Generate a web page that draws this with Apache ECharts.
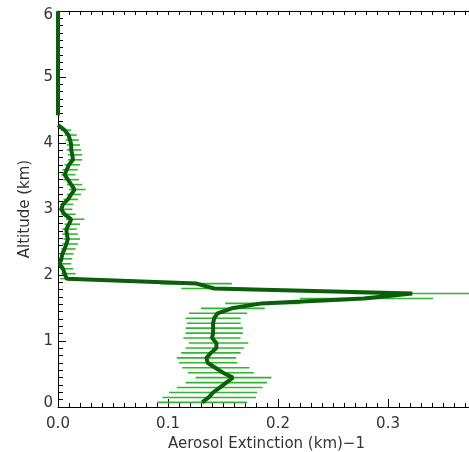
<!DOCTYPE html>
<html><head><meta charset="utf-8">
<script src="https://cdn.jsdelivr.net/npm/echarts@6/dist/echarts.min.js"></script>
<style>html,body{margin:0;padding:0;background:#fff}#c{width:469px;height:452px}</style>
</head><body><div id="c"></div>
<script>
// Altitude levels (km)
const altitude = [0.070,0.145,0.220,0.295,0.370,0.445,0.520,0.595,0.670,0.745,0.820,0.895,0.970,1.045,1.120,1.195,1.270,1.345,1.420,1.495,1.570,1.645,1.720,1.795,1.870,1.945,2.020,2.095,2.170,2.245,2.320,2.395,2.470,2.545,2.620,2.695,2.770,2.845,2.920,2.995,3.070,3.145,3.220,3.295,3.370,3.445,3.520,3.595,3.670,3.745,3.820,3.895,3.970,4.045,4.120,4.195,4.270,4.345,4.420,4.495,4.570,4.645,4.720,4.795,4.870,4.945,5.020,5.095,5.170,5.245,5.320,5.395,5.470,5.545,5.620,5.695,5.770,5.845,5.920,5.995];
// Aerosol extinction (km^-1)
const extinction = [0.131,0.137,0.141,0.147,0.153,0.159,0.150,0.143,0.136,0.135,0.139,0.144,0.144,0.140,0.141,0.141,0.141,0.142,0.145,0.158,0.185,0.278,0.322,0.142,0.126,0.008,0.006,0.0045,0.0015,0.003,0.004,0.006,0.0076,0.009,0.008,0.0076,0.010,0.012,0.006,0.003,0.0045,0.009,0.012,0.015,0.012,0.009,0.006,0.008,0.010,0.0136,0.013,0.012,0.012,0.011,0.0095,0.006,0.000,null,0,0,0,0,0,0,0,0,0,0,0,0,0,0,0,0,0,0,0,0,0,0];
// Error bar lower / upper ends
const errLow = [0.090,0.095,0.101,0.108,0.116,0.125,0.118,0.113,0.110,0.108,0.112,0.116,0.119,0.114,0.116,0.116,0.117,0.116,0.119,0.130,0.152,0.220,0.268,0.112,0.093,0.002,0.003,0.002,0.000,0.001,0.001,0.003,0.004,0.005,0.004,0.004,0.006,0.007,0.003,0.001,0.002,0.005,0.008,0.010,0.008,0.005,0.003,0.004,0.006,0.009,0.009,0.008,0.008,0.007,0.006,0.003];
const errHigh = [0.172,0.180,0.181,0.186,0.190,0.194,0.178,0.174,0.163,0.162,0.166,0.169,0.173,0.166,0.168,0.168,0.166,0.166,0.172,0.188,0.220,0.341,0.380,0.172,0.158,0.016,0.016,0.014,0.012,0.013,0.014,0.016,0.018,0.020,0.018,0.017,0.020,0.024,0.016,0.013,0.014,0.018,0.021,0.025,0.022,0.019,0.016,0.018,0.020,0.022,0.022,0.021,0.020,0.019,0.017,0.012];
const xTicks = ['0.0','0.1','0.2','0.3'];
const yTicks = ['0','1','2','3','4','5','6'];
const xMax = 0.3736;

const lineData = altitude.map((a,i)=> extinction[i]===null ? ['-', a] : [extinction[i], a]);
const errData = errLow.map((lo,i)=>[lo, errHigh[i], altitude[i]]);

const font = 'DejaVu Sans';
const chart = echarts.init(document.getElementById('c'), null, {renderer:'canvas'});
const ls = () => ({color:'#000', width:1});
chart.setOption({
  animation:false,
  grid:{left:58, top:11, bottom:45, right:0, containLabel:false, outerBoundsMode:'none'},
  xAxis:[{
    type:'value', min:0, max:xMax, interval:0.1, position:'bottom',
    name:'Aerosol Extinction (km)\u22121', nameLocation:'middle', nameGap:25,
    nameTextStyle:{fontFamily:font, fontSize:15, color:'#333', padding:[0,0,0,6]},
    axisLine:{show:true, lineStyle:ls(), onZero:false},
    axisTick:{show:true, inside:true, length:8, lineStyle:ls()},
    splitLine:{show:false},
    axisLabel:{fontFamily:font, fontSize:15, color:'#333', margin:10, showMaxLabel:false,
      formatter:(v)=>{const i=Math.round(v*10); return Math.abs(v*10-i)<1e-6 && i<xTicks.length ? xTicks[i] : '';}}
  },{
    type:'value', min:0, max:xMax, interval:0.01, position:'top',
    axisLine:{show:true, onZero:false, lineStyle:{color:'#000', width:1}},
    axisTick:{show:true, inside:false, length:-4, lineStyle:{color:'#000', width:1}},
    splitLine:{show:false}, axisLabel:{show:false}
  },{
    type:'value', min:0, max:xMax, interval:0.01, position:'bottom',
    axisLine:{show:false, onZero:false},
    axisTick:{show:true, inside:true, length:4, lineStyle:{color:'#000', width:1}},
    splitLine:{show:false}, axisLabel:{show:false}
  }],
  yAxis:[{
    type:'value', min:0, max:6, interval:1,
    name:'Altitude (km)', nameLocation:'middle', nameGap:24, nameRotate:90,
    nameTextStyle:{fontFamily:font, fontSize:15, color:'#333'},
    axisLine:{show:true, lineStyle:ls(), onZero:false},
    axisTick:{show:true, inside:true, length:8, lineStyle:ls()},
    minorTick:{show:true, splitNumber:9, length:5, lineStyle:ls()},
    splitLine:{show:false},
    axisLabel:{fontFamily:font, fontSize:15, color:'#333', margin:5,
      rich:{top:{fontFamily:font, fontSize:15, color:'#333', padding:[9,0,0,0]},
            bot:{fontFamily:font, fontSize:15, color:'#333', padding:[0,0,8,0]}},
      formatter:(v)=>{const i=Math.round(v); if(Math.abs(v-i)>1e-6) return '';
        if(i===6) return '{top|'+yTicks[i]+'}'; if(i===0) return '{bot|'+yTicks[i]+'}'; return yTicks[i];}}
  }],
  series:[{
    type:'custom', xAxisIndex:0, yAxisIndex:0, z:2,
    data:errData, encode:{x:[0,1], y:2},
    renderItem:(params, api)=>{
      const p1 = api.coord([api.value(0), api.value(2)]);
      const p2 = api.coord([api.value(1), api.value(2)]);
      return {type:'line', shape:{x1:p1[0], y1:p1[1], x2:p2[0], y2:p2[1]},
        style:{stroke:'#2fb52f', lineWidth:1.6}};
    }
  },{
    type:'line', xAxisIndex:0, yAxisIndex:0, z:3,
    data:lineData, showSymbol:false, symbol:'none', connectNulls:false, clip:false,
    lineStyle:{color:'#0b5e0b', width:4}
  },{
    type:'line', xAxisIndex:1, yAxisIndex:0, data:[], symbol:'none', silent:true
  },{
    type:'line', xAxisIndex:2, yAxisIndex:0, data:[], symbol:'none', silent:true
  }]
});
</script></body></html>
